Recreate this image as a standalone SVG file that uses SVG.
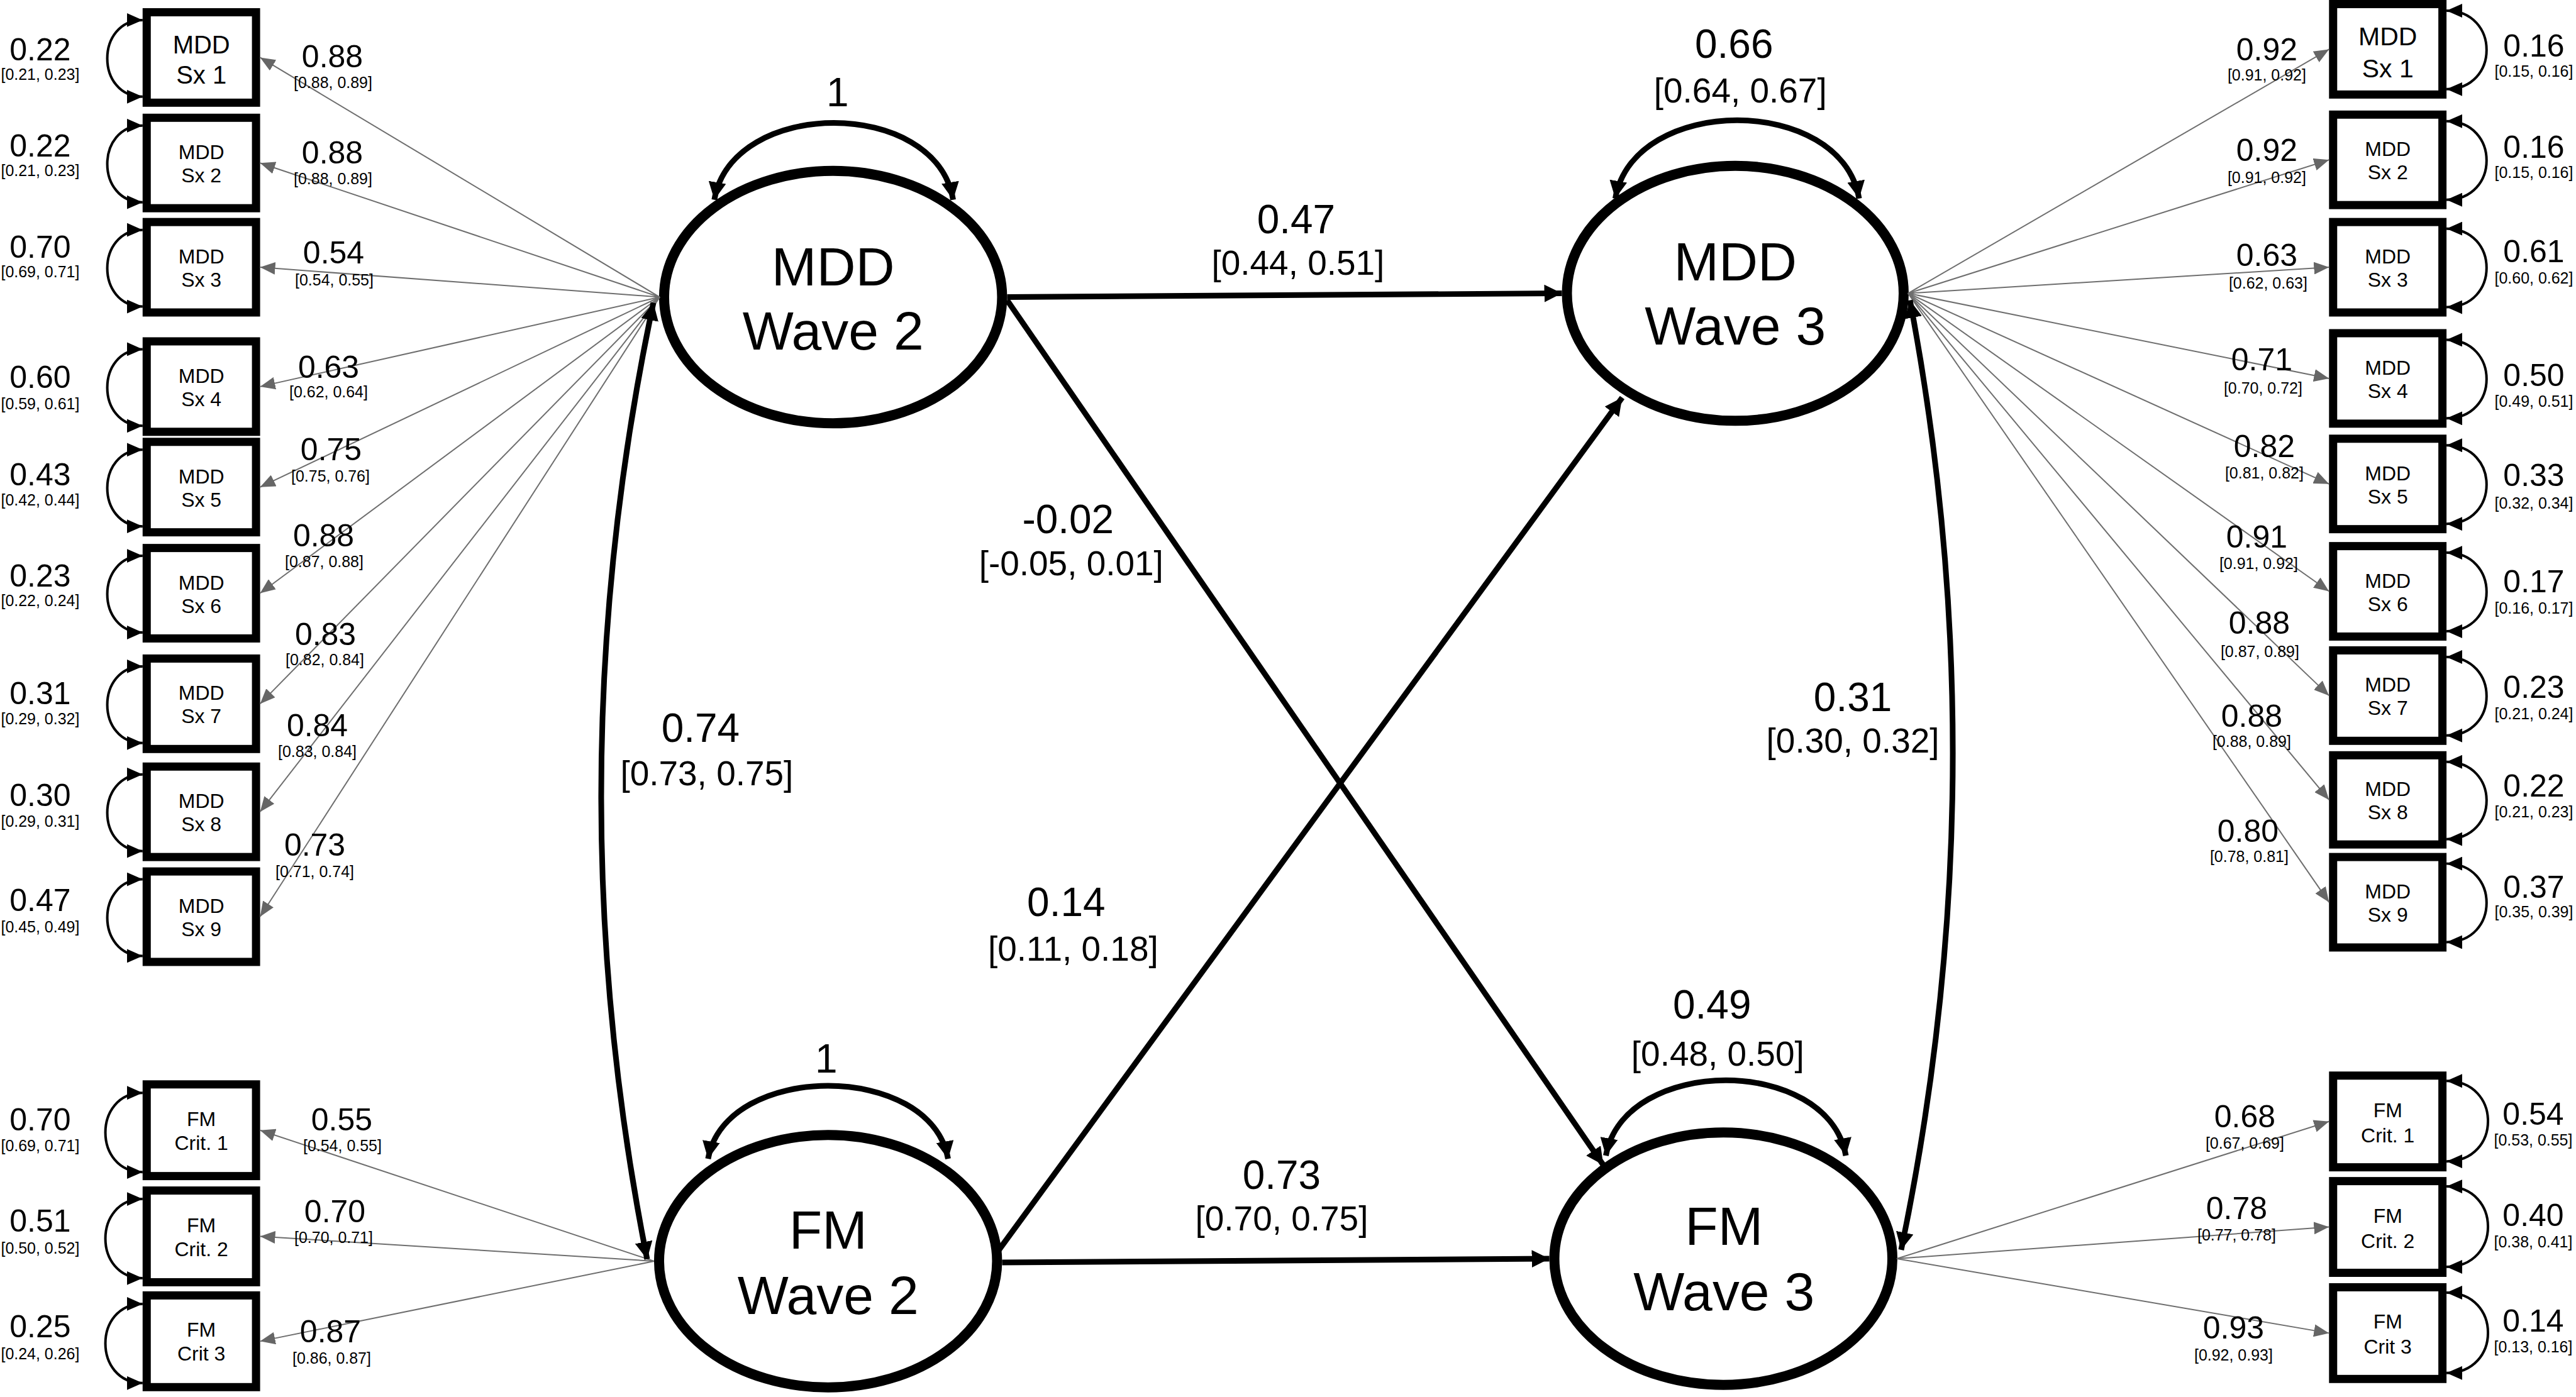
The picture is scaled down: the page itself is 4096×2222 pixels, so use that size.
<svg xmlns="http://www.w3.org/2000/svg" width="4096" height="2222" viewBox="0 0 4096 2222">
<style>
.box{fill:#fff;stroke:#000;stroke-width:13}
.lat{fill:#fff;stroke:#000;stroke-width:16}
text{font-family:"Liberation Sans",Arial,sans-serif;text-anchor:middle;fill:#000}
.bt{font-size:32px}.bt1{font-size:40px}
.lt{font-size:86px}
.n{font-size:50px}.ci{font-size:25px}
.cn{font-size:64px}.cc{font-size:55px}
.ld{stroke:#6e6e6e;stroke-width:2;fill:none;marker-end:url(#ag)}
.va{stroke:#000;stroke-width:4;fill:none;marker-start:url(#as);marker-end:url(#as)}
.sp{stroke:#000;stroke-width:9;fill:none;marker-end:url(#ab)}
.sv{stroke:#000;stroke-width:9;fill:none;marker-start:url(#ab);marker-end:url(#ab)}
</style>
<defs>
<marker id="ag" markerUnits="userSpaceOnUse" viewBox="0 0 24 20" refX="24" refY="10" markerWidth="24" markerHeight="20" orient="auto"><path d="M0,0L24,10L0,20z" fill="#666"/></marker>
<marker id="as" markerUnits="userSpaceOnUse" viewBox="0 0 25 22" refX="25" refY="11" markerWidth="25" markerHeight="22" orient="auto-start-reverse"><path d="M0,0L25,11L0,22z" fill="#000"/></marker>
<marker id="ab" markerUnits="userSpaceOnUse" viewBox="0 0 28 28" refX="28" refY="14" markerWidth="28" markerHeight="28" orient="auto-start-reverse"><path d="M0,0L28,14L0,28z" fill="#000"/></marker>
</defs>
<rect width="4096" height="2222" fill="#fff"/>
<g transform="scale(0.999)">
<!-- latent nodes -->
<g id="mdd_w2"><ellipse class="lat" cx="1326" cy="473" rx="269" ry="201"/><text class="lt" x="1326" y="454">MDD</text><text class="lt" x="1326" y="557">Wave 2</text></g>
<g id="mdd_w3"><ellipse class="lat" cx="2762" cy="467" rx="268" ry="203"/><text class="lt" x="2762" y="446">MDD</text><text class="lt" x="2762" y="549">Wave 3</text></g>
<g id="fm_w2"><ellipse class="lat" cx="1318" cy="2008" rx="269" ry="201"/><text class="lt" x="1318" y="1988">FM</text><text class="lt" x="1318" y="2092">Wave 2</text></g>
<g id="fm_w3"><ellipse class="lat" cx="2743" cy="2004" rx="269" ry="201"/><text class="lt" x="2744" y="1982">FM</text><text class="lt" x="2744" y="2086">Wave 3</text></g>

<!-- left indicator boxes -->
<g id="l_sx1"><rect class="box" x="233.5" y="19.5" width="174" height="144"/><text class="bt1" x="320.5" y="85.5">MDD</text><text class="bt1" x="320.5" y="133.5">Sx 1</text></g>
<g id="l_sx2"><rect class="box" x="233.5" y="187.5" width="174" height="144"/><text class="bt" x="320.5" y="253.5">MDD</text><text class="bt" x="320.5" y="290.5">Sx 2</text></g>
<g id="l_sx3"><rect class="box" x="233.5" y="353.5" width="174" height="144"/><text class="bt" x="320.5" y="419.5">MDD</text><text class="bt" x="320.5" y="456.5">Sx 3</text></g>
<g id="l_sx4"><rect class="box" x="233.5" y="543.5" width="174" height="144"/><text class="bt" x="320.5" y="609.5">MDD</text><text class="bt" x="320.5" y="646.5">Sx 4</text></g>
<g id="l_sx5"><rect class="box" x="233.5" y="703.5" width="174" height="144"/><text class="bt" x="320.5" y="769.5">MDD</text><text class="bt" x="320.5" y="806.5">Sx 5</text></g>
<g id="l_sx6"><rect class="box" x="233.5" y="872.5" width="174" height="144"/><text class="bt" x="320.5" y="938.5">MDD</text><text class="bt" x="320.5" y="975.5">Sx 6</text></g>
<g id="l_sx7"><rect class="box" x="233.5" y="1048.5" width="174" height="144"/><text class="bt" x="320.5" y="1114.5">MDD</text><text class="bt" x="320.5" y="1151.5">Sx 7</text></g>
<g id="l_sx8"><rect class="box" x="233.5" y="1220.5" width="174" height="144"/><text class="bt" x="320.5" y="1286.5">MDD</text><text class="bt" x="320.5" y="1323.5">Sx 8</text></g>
<g id="l_sx9"><rect class="box" x="233.5" y="1387.5" width="174" height="144"/><text class="bt" x="320.5" y="1453.5">MDD</text><text class="bt" x="320.5" y="1490.5">Sx 9</text></g>
<g id="l_fm1"><rect class="box" x="233.5" y="1726.5" width="174" height="146"/><text class="bt" x="320.5" y="1792.5">FM</text><text class="bt" x="320.5" y="1830.5">Crit. 1</text></g>
<g id="l_fm2"><rect class="box" x="233.5" y="1895.5" width="174" height="146"/><text class="bt" x="320.5" y="1961.5">FM</text><text class="bt" x="320.5" y="1999.5">Crit. 2</text></g>
<g id="l_fm3"><rect class="box" x="233.5" y="2062.5" width="174" height="146"/><text class="bt" x="320.5" y="2128.5">FM</text><text class="bt" x="320.5" y="2166.5">Crit 3</text></g>

<!-- right indicator boxes -->
<g id="r_sx1"><rect class="box" x="3713.5" y="6.5" width="174" height="144"/><text class="bt1" x="3800.5" y="72.5" style="font-size:41px">MDD</text><text class="bt1" x="3800.5" y="123.5" style="font-size:41px">Sx 1</text></g>
<g id="r_sx2"><rect class="box" x="3713.5" y="182.5" width="174" height="144"/><text class="bt" x="3800.5" y="248.5">MDD</text><text class="bt" x="3800.5" y="285.5">Sx 2</text></g>
<g id="r_sx3"><rect class="box" x="3713.5" y="353.5" width="174" height="144"/><text class="bt" x="3800.5" y="419.5">MDD</text><text class="bt" x="3800.5" y="456.5">Sx 3</text></g>
<g id="r_sx4"><rect class="box" x="3713.5" y="530.5" width="174" height="144"/><text class="bt" x="3800.5" y="596.5">MDD</text><text class="bt" x="3800.5" y="633.5">Sx 4</text></g>
<g id="r_sx5"><rect class="box" x="3713.5" y="698.5" width="174" height="144"/><text class="bt" x="3800.5" y="764.5">MDD</text><text class="bt" x="3800.5" y="801.5">Sx 5</text></g>
<g id="r_sx6"><rect class="box" x="3713.5" y="869.5" width="174" height="144"/><text class="bt" x="3800.5" y="935.5">MDD</text><text class="bt" x="3800.5" y="972.5">Sx 6</text></g>
<g id="r_sx7"><rect class="box" x="3713.5" y="1035.5" width="174" height="144"/><text class="bt" x="3800.5" y="1101.5">MDD</text><text class="bt" x="3800.5" y="1138.5">Sx 7</text></g>
<g id="r_sx8"><rect class="box" x="3713.5" y="1202.5" width="174" height="142"/><text class="bt" x="3800.5" y="1267.5">MDD</text><text class="bt" x="3800.5" y="1304.5">Sx 8</text></g>
<g id="r_sx9"><rect class="box" x="3713.5" y="1364.5" width="174" height="144"/><text class="bt" x="3800.5" y="1430.5">MDD</text><text class="bt" x="3800.5" y="1467.5">Sx 9</text></g>
<g id="r_fm1"><rect class="box" x="3713.5" y="1712.5" width="174" height="146"/><text class="bt" x="3800.5" y="1778.5">FM</text><text class="bt" x="3800.5" y="1818.5">Crit. 1</text></g>
<g id="r_fm2"><rect class="box" x="3713.5" y="1880.5" width="174" height="146"/><text class="bt" x="3800.5" y="1946.5">FM</text><text class="bt" x="3800.5" y="1986.5">Crit. 2</text></g>
<g id="r_fm3"><rect class="box" x="3713.5" y="2049.5" width="174" height="146"/><text class="bt" x="3800.5" y="2115.5">FM</text><text class="bt" x="3800.5" y="2155.5">Crit 3</text></g>

<!-- connectors -->
<g id="connectors">
<!-- left loadings -->
<path class="ld" d="M1050,473L414,91.5"/>
<path class="ld" d="M1050,473L414,259.5"/>
<path class="ld" d="M1050,473L414,425.5"/>
<path class="ld" d="M1050,473L414,615.5"/>
<path class="ld" d="M1050,473L414,775.5"/>
<path class="ld" d="M1050,473L414,944.5"/>
<path class="ld" d="M1050,473L414,1120.5"/>
<path class="ld" d="M1050,473L414,1292.5"/>
<path class="ld" d="M1050,473L414,1459.5"/>
<path class="ld" d="M1041,2008L414,1799.5"/>
<path class="ld" d="M1041,2008L414,1968.5"/>
<path class="ld" d="M1041,2008L414,2135.5"/>
<!-- right loadings -->
<path class="ld" d="M3037,467L3707,78.5"/>
<path class="ld" d="M3037,467L3707,254.5"/>
<path class="ld" d="M3037,467L3707,425.5"/>
<path class="ld" d="M3037,467L3707,602.5"/>
<path class="ld" d="M3037,467L3707,770.5"/>
<path class="ld" d="M3037,467L3707,941.5"/>
<path class="ld" d="M3037,467L3707,1107.5"/>
<path class="ld" d="M3037,467L3707,1273.5"/>
<path class="ld" d="M3037,467L3707,1436.5"/>
<path class="ld" d="M3019,2004L3707,1785.5"/>
<path class="ld" d="M3019,2004L3707,1953.5"/>
<path class="ld" d="M3019,2004L3707,2122.5"/>
<!-- left residual variances -->
<path class="va" d="M227,32C152,32 152,154 227,154"/>
<path class="va" d="M227,200C152,200 152,322 227,322"/>
<path class="va" d="M227,366C152,366 152,488 227,488"/>
<path class="va" d="M227,556C152,556 152,678 227,678"/>
<path class="va" d="M227,716C152,716 152,838 227,838"/>
<path class="va" d="M227,885C152,885 152,1007 227,1007"/>
<path class="va" d="M227,1061C152,1061 152,1183 227,1183"/>
<path class="va" d="M227,1233C152,1233 152,1355 227,1355"/>
<path class="va" d="M227,1400C152,1400 152,1522 227,1522"/>
<path class="va" d="M227,1740C148,1740 148,1866 227,1866"/>
<path class="va" d="M227,1909C148,1909 148,2035 227,2035"/>
<path class="va" d="M227,2076C148,2076 148,2202 227,2202"/>
<!-- right residual variances -->
<path class="va" d="M3894,17C3979,17 3979,142 3894,142"/>
<path class="va" d="M3894,193C3979,193 3979,318 3894,318"/>
<path class="va" d="M3894,364C3979,364 3979,489 3894,489"/>
<path class="va" d="M3894,541C3979,541 3979,666 3894,666"/>
<path class="va" d="M3894,709C3979,709 3979,834 3894,834"/>
<path class="va" d="M3894,880C3979,880 3979,1005 3894,1005"/>
<path class="va" d="M3894,1046C3979,1046 3979,1171 3894,1171"/>
<path class="va" d="M3894,1213C3979,1213 3979,1336 3894,1336"/>
<path class="va" d="M3894,1375C3979,1375 3979,1500 3894,1500"/>
<path class="va" d="M3894,1721C3982,1721 3982,1849 3894,1849"/>
<path class="va" d="M3894,1889C3982,1889 3982,2017 3894,2017"/>
<path class="va" d="M3894,2058C3982,2058 3982,2186 3894,2186"/>
<!-- latent variances -->
<path class="sv" d="M1137,318C1165,155 1490,155 1517,318"/>
<path class="sv" d="M2571,316C2600,150 2930,150 2959,316"/>
<path class="sv" d="M1127,1845C1155,1690 1481,1690 1509,1845"/>
<path class="sv" d="M2556,1840C2585,1680 2909,1680 2938,1840"/>
<!-- structural paths -->
<path class="sp" d="M1603,473L2486,467"/>
<path class="sp" d="M1603,478L2552,1855"/>
<path class="sp" d="M1590,1990L2582,633"/>
<path class="sp" d="M1595,2010L2466,2004"/>
<path class="sv" d="M1040,482Q879,1243 1030,2005"/>
<path class="sv" d="M3040,478Q3183,1234 3026,1990"/>
</g>

<!-- labels -->
<g id="labels">
<text class="n" x="64" y="96">0.22</text><text class="ci" x="64" y="127">[0.21, 0.23]</text>
<text class="n" x="64" y="249">0.22</text><text class="ci" x="64" y="280">[0.21, 0.23]</text>
<text class="n" x="64" y="410">0.70</text><text class="ci" x="64" y="441">[0.69, 0.71]</text>
<text class="n" x="64" y="618">0.60</text><text class="ci" x="64" y="652">[0.59, 0.61]</text>
<text class="n" x="64" y="773">0.43</text><text class="ci" x="64" y="805">[0.42, 0.44]</text>
<text class="n" x="64" y="934">0.23</text><text class="ci" x="64" y="965">[0.22, 0.24]</text>
<text class="n" x="64" y="1121">0.31</text><text class="ci" x="64" y="1153">[0.29, 0.32]</text>
<text class="n" x="64" y="1283">0.30</text><text class="ci" x="64" y="1316">[0.29, 0.31]</text>
<text class="n" x="64" y="1450">0.47</text><text class="ci" x="64" y="1484">[0.45, 0.49]</text>
<text class="n" x="64" y="1800">0.70</text><text class="ci" x="64" y="1833">[0.69, 0.71]</text>
<text class="n" x="64" y="1961">0.51</text><text class="ci" x="64" y="1996">[0.50, 0.52]</text>
<text class="n" x="64" y="2129">0.25</text><text class="ci" x="64" y="2164">[0.24, 0.26]</text>

<text class="n" x="529" y="107">0.88</text><text class="ci" x="530" y="140">[0.88, 0.89]</text>
<text class="n" x="529" y="260">0.88</text><text class="ci" x="530" y="293">[0.88, 0.89]</text>
<text class="n" x="531" y="419">0.54</text><text class="ci" x="532" y="454">[0.54, 0.55]</text>
<text class="n" x="523" y="602">0.63</text><text class="ci" x="523" y="633">[0.62, 0.64]</text>
<text class="n" x="527" y="733">0.75</text><text class="ci" x="526" y="767">[0.75, 0.76]</text>
<text class="n" x="515" y="870">0.88</text><text class="ci" x="516" y="903">[0.87, 0.88]</text>
<text class="n" x="518" y="1027">0.83</text><text class="ci" x="517" y="1059">[0.82, 0.84]</text>
<text class="n" x="505" y="1172">0.84</text><text class="ci" x="505" y="1205">[0.83, 0.84]</text>
<text class="n" x="501" y="1362">0.73</text><text class="ci" x="501" y="1396">[0.71, 0.74]</text>
<text class="n" x="544" y="1800">0.55</text><text class="ci" x="545" y="1833">[0.54, 0.55]</text>
<text class="n" x="533" y="1946">0.70</text><text class="ci" x="531" y="1979">[0.70, 0.71]</text>
<text class="n" x="526" y="2137">0.87</text><text class="ci" x="528" y="2171">[0.86, 0.87]</text>

<text class="n" x="3608" y="96">0.92</text><text class="ci" x="3608" y="128">[0.91, 0.92]</text>
<text class="n" x="3608" y="256">0.92</text><text class="ci" x="3608" y="291">[0.91, 0.92]</text>
<text class="n" x="3608" y="423">0.63</text><text class="ci" x="3610" y="459">[0.62, 0.63]</text>
<text class="n" x="3600" y="590">0.71</text><text class="ci" x="3602" y="627">[0.70, 0.72]</text>
<text class="n" x="3604" y="728">0.82</text><text class="ci" x="3604" y="762">[0.81, 0.82]</text>
<text class="n" x="3592" y="872">0.91</text><text class="ci" x="3595" y="906">[0.91, 0.92]</text>
<text class="n" x="3596" y="1009">0.88</text><text class="ci" x="3597" y="1046">[0.87, 0.89]</text>
<text class="n" x="3584" y="1157">0.88</text><text class="ci" x="3584" y="1189">[0.88, 0.89]</text>
<text class="n" x="3578" y="1340">0.80</text><text class="ci" x="3580" y="1372">[0.78, 0.81]</text>
<text class="n" x="3573" y="1795">0.68</text><text class="ci" x="3573" y="1829">[0.67, 0.69]</text>
<text class="n" x="3560" y="1941">0.78</text><text class="ci" x="3560" y="1975">[0.77, 0.78]</text>
<text class="n" x="3555" y="2131">0.93</text><text class="ci" x="3555" y="2166">[0.92, 0.93]</text>

<text class="n" x="4033" y="90">0.16</text><text class="ci" x="4033" y="122">[0.15, 0.16]</text>
<text class="n" x="4033" y="251">0.16</text><text class="ci" x="4033" y="283">[0.15, 0.16]</text>
<text class="n" x="4033" y="417">0.61</text><text class="ci" x="4033" y="451">[0.60, 0.62]</text>
<text class="n" x="4033" y="615">0.50</text><text class="ci" x="4033" y="648">[0.49, 0.51]</text>
<text class="n" x="4033" y="774">0.33</text><text class="ci" x="4033" y="810">[0.32, 0.34]</text>
<text class="n" x="4033" y="943">0.17</text><text class="ci" x="4033" y="977">[0.16, 0.17]</text>
<text class="n" x="4033" y="1111">0.23</text><text class="ci" x="4033" y="1145">[0.21, 0.24]</text>
<text class="n" x="4033" y="1268">0.22</text><text class="ci" x="4033" y="1301">[0.21, 0.23]</text>
<text class="n" x="4033" y="1429">0.37</text><text class="ci" x="4033" y="1460">[0.35, 0.39]</text>
<text class="n" x="4032" y="1791">0.54</text><text class="ci" x="4032" y="1824">[0.53, 0.55]</text>
<text class="n" x="4032" y="1952">0.40</text><text class="ci" x="4032" y="1986">[0.38, 0.41]</text>
<text class="n" x="4032" y="2120">0.14</text><text class="ci" x="4032" y="2153">[0.13, 0.16]</text>

<text class="cn" x="1333" y="169">1</text>
<text class="cn" x="2760" y="92">0.66</text><text class="cc" x="2770" y="163">[0.64, 0.67]</text>
<text class="cn" x="2063" y="371">0.47</text><text class="cc" x="2066" y="437">[0.44, 0.51]</text>
<text class="cn" x="1700" y="849">-0.02</text><text class="cc" x="1705" y="916">[-0.05, 0.01]</text>
<text class="cn" x="1115" y="1181">0.74</text><text class="cc" x="1125" y="1250">[0.73, 0.75]</text>
<text class="cn" x="1697" y="1458">0.14</text><text class="cc" x="1708" y="1530">[0.11, 0.18]</text>
<text class="cn" x="2949" y="1132">0.31</text><text class="cc" x="2949" y="1198">[0.30, 0.32]</text>
<text class="cn" x="2040" y="1893">0.73</text><text class="cc" x="2040" y="1959">[0.70, 0.75]</text>
<text class="cn" x="1315" y="1708">1</text>
<text class="cn" x="2725" y="1622">0.49</text><text class="cc" x="2734" y="1697">[0.48, 0.50]</text>
</g>
</g>
</svg>
